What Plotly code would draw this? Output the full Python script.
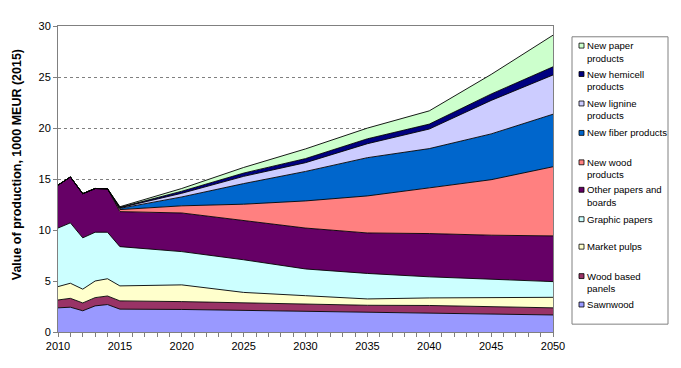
import plotly.graph_objects as go

years = [2010, 2011, 2012, 2013, 2014, 2015, 2020, 2025, 2030, 2035, 2040, 2045, 2050]

series_names = ["Sawnwood", "Wood based panels", "Market pulps", "Graphic papers",
                "Other papers and boards", "New wood products", "New fiber products",
                "New lignine products", "New hemicell products", "New paper products"]

sawnwood = [2.37, 2.43, 2.08, 2.56, 2.69, 2.24, 2.21, 2.12, 2.05, 1.95, 1.92, 1.80, 1.67]
wood_panels = [0.77, 0.87, 0.77, 0.81, 0.84, 0.81, 0.77, 0.73, 0.71, 0.67, 0.68, 0.70, 0.70]
market_pulps = [1.31, 1.48, 1.35, 1.63, 1.69, 1.47, 1.64, 1.03, 0.80, 0.62, 0.74, 0.90, 1.03]
graphic_papers = [5.74, 5.92, 5.03, 4.78, 4.56, 3.85, 3.26, 3.20, 2.62, 2.50, 2.07, 1.76, 1.54]
other_papers = [4.21, 4.50, 4.33, 4.29, 4.26, 3.43, 3.79, 3.85, 4.01, 3.97, 4.24, 4.33, 4.48]
new_wood = [0, 0, 0, 0, 0, 0.20, 0.70, 1.60, 2.66, 3.63, 4.48, 5.44, 6.78]
new_fiber = [0, 0, 0, 0, 0, 0.12, 0.87, 2.02, 2.89, 3.75, 3.85, 4.49, 5.15]
new_lignine = [0, 0, 0, 0, 0, 0.06, 0.36, 0.71, 0.86, 1.37, 1.92, 3.28, 3.85]
new_hemicell = [0, 0, 0, 0, 0, 0.04, 0.20, 0.32, 0.40, 0.48, 0.48, 0.63, 0.80]
new_paper = [0, 0, 0, 0, 0, 0.06, 0.27, 0.55, 0.95, 1.05, 1.30, 1.92, 3.10]

series_values = [sawnwood, wood_panels, market_pulps, graphic_papers, other_papers,
                 new_wood, new_fiber, new_lignine, new_hemicell, new_paper]

colors = ["#9999FF", "#993366", "#FFFFCC", "#CCFFFF", "#660066",
          "#FF8080", "#0066CC", "#CCCCFF", "#000080", "#CCFFCC"]

# legend (top to bottom) labels
legend_labels = ["New paper<br>products", "New hemicell<br>products", "New lignine<br>products",
                 "New fiber products", "New wood<br>products", "Other papers and<br>boards",
                 "Graphic papers", "Market pulps", "Wood based<br>panels", "Sawnwood"]
legend_rows_px = [40, 69, 99, 129, 159, 187, 217, 245, 275, 304]

x_ticks = [2010, 2015, 2020, 2025, 2030, 2035, 2040, 2045, 2050]
y_ticks = [0, 5, 10, 15, 20, 25, 30]

# page body has an 8px margin; work in window pixels and shift
OFF = 8
W, H = 681 - OFF, 368 - OFF
L, R, T, B = 58, 553, 20, 332

fig = go.Figure()
for name, vals, col in zip(series_names, series_values, colors):
    fig.add_trace(go.Scatter(
        x=years, y=vals, name=name, stackgroup="one", mode="lines",
        line=dict(color="#000000", width=0.9), fillcolor=col, showlegend=False))

def px_x(p):
    return (p - L) / (R - L)

def px_y(p):
    return (B - p) / (B - T)

shapes = []
annotations = []
# legend box
shapes.append(dict(type="rect", xref="paper", yref="paper",
                   x0=px_x(572), x1=px_x(668), y0=px_y(324), y1=px_y(31),
                   line=dict(color="#808080", width=1), fillcolor="white", layer="above"))
legend_colors = list(reversed(colors))
for lab, col, ry in zip(legend_labels, legend_colors, legend_rows_px):
    shapes.append(dict(type="rect", xref="paper", yref="paper",
                       x0=px_x(579), x1=px_x(584), y0=px_y(ry + 2.5), y1=px_y(ry - 2.5),
                       line=dict(color="#000000", width=0.8), fillcolor=col, layer="above"))
    for i, line_txt in enumerate(lab.split("<br>")):
        annotations.append(dict(x=px_x(584.5), y=px_y(ry + i * 12.7), xref="paper", yref="paper",
                                text=line_txt, showarrow=False, xanchor="left", yanchor="middle",
                                align="left", font=dict(family="Liberation Sans, Arial", size=9.6, color="#000000")))

annotations.append(dict(x=px_x(17), y=px_y(162), xref="paper", yref="paper",
                        text="<b>Value of production, 1000 MEUR (2015)</b>", textangle=-90,
                        showarrow=False, xanchor="center", yanchor="middle",
                        font=dict(family="Liberation Sans, Arial", size=12.5, color="#000000")))

fig.update_layout(
    width=W, height=H,
    margin=dict(l=L - OFF, r=W - (R - OFF), t=T - OFF, b=H - (B - OFF), pad=0),
    paper_bgcolor="white", plot_bgcolor="white",
    shapes=shapes, annotations=annotations,
    font=dict(family="Liberation Sans, Arial", size=11, color="#000000"),
    xaxis=dict(range=[2010, 2050], tickvals=x_ticks, ticks="outside", ticklen=4,
               tickcolor="#808080", showline=True, linecolor="#808080", linewidth=1,
               mirror=True, showgrid=False, zeroline=False,
               tickfont=dict(size=11, color="#000000"),
               minor=dict(ticks="outside", dtick=1, ticklen=4, tickcolor="#808080", showgrid=False)),
    yaxis=dict(range=[0, 30], tickvals=y_ticks, ticks="outside", ticklen=4,
               tickcolor="#808080", showline=True, linecolor="#808080", linewidth=1,
               mirror=True, showgrid=True, gridcolor="#808080", griddash="dot", gridwidth=1,
               zeroline=False, tickfont=dict(size=11, color="#000000")),
    showlegend=False,
)

fig.write_html("out.html")
